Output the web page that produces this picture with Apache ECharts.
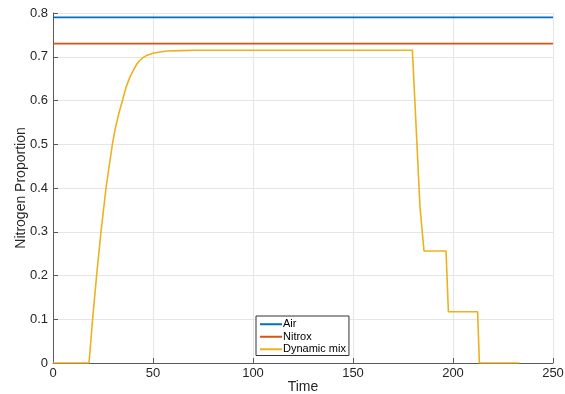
<!DOCTYPE html>
<html>
<head>
<meta charset="utf-8">
<script src="https://cdn.jsdelivr.net/npm/echarts@6/dist/echarts.min.js"></script>
<style>
  html, body { margin: 0; padding: 0; background: #fff; }
  #chart { width: 565px; height: 394px; }
</style>
</head>
<body>
<div id="chart"></div>
<script>
// Nitrogen proportion of the breathing gas over time
const airLevel = 0.79;
const nitroxLevel = 0.73;
const timeSpan = [0, 250];

// Dynamic mix: [time, proportion]
const dynamicTime = [0, 18, 19.8, 21.8, 24, 26.5, 29.7, 31, 33, 34.8, 36.5, 38.5, 40.5, 42, 43.5, 45, 46.8, 50, 53.5, 57, 63.5, 70,
  179.7, 183.5, 184.5, 185.5, 196.5, 197.7, 212.3, 213.2, 233.2];
const dynamicValue = [0, 0, 0.1, 0.2, 0.3, 0.4, 0.5, 0.533, 0.572, 0.601, 0.630, 0.654, 0.672, 0.684, 0.692, 0.698, 0.703, 0.708, 0.711, 0.713, 0.714, 0.715,
  0.715, 0.357, 0.357, 0.256, 0.256, 0.117, 0.117, 0, 0];

const xTicks = [0, 50, 100, 150, 200, 250];
const yTicks = [0, 0.1, 0.2, 0.3, 0.4, 0.5, 0.6, 0.7, 0.8];

const font = 'Liberation Sans, Arial, Helvetica, sans-serif';
const axisColor = '#5a5a5a';
const textColor = '#262626';

const chart = echarts.init(document.getElementById('chart'), null, { renderer: 'canvas' });

chart.setOption({
  animation: false,
  backgroundColor: '#ffffff',
  grid: { left: 53, right: 12, top: 13, bottom: 31, containLabel: false, outerBoundsMode: 'none' },
  xAxis: {
    type: 'value',
    min: xTicks[0],
    max: xTicks[xTicks.length - 1],
    interval: xTicks[1] - xTicks[0],
    name: 'Time',
    nameLocation: 'middle',
    nameGap: 17,
    nameMoveOverlap: false,
    nameTextStyle: { fontFamily: font, fontSize: 14, color: textColor },
    axisLine: { show: true, onZero: false, lineStyle: { color: axisColor, width: 1 } },
    axisTick: { show: true, inside: true, length: 5, lineStyle: { color: axisColor } },
    axisLabel: { fontFamily: font, fontSize: 13, color: textColor, margin: 4 },
    splitLine: { show: true, lineStyle: { color: '#e6e6e6', width: 1 } }
  },
  yAxis: {
    type: 'value',
    min: yTicks[0],
    max: yTicks[yTicks.length - 1],
    interval: 0.1,
    name: 'Nitrogen Proportion',
    nameLocation: 'middle',
    nameGap: 25,
    nameMoveOverlap: false,
    nameTextStyle: { fontFamily: font, fontSize: 14, color: textColor },
    axisLine: { show: true, onZero: false, lineStyle: { color: axisColor, width: 1 } },
    axisTick: { show: true, inside: true, length: 5, lineStyle: { color: axisColor } },
    axisLabel: {
      fontFamily: font, fontSize: 13, color: textColor, margin: 5,
      formatter: v => String(Math.round(v * 10) / 10)
    },
    splitLine: { show: true, lineStyle: { color: '#e6e6e6', width: 1 } }
  },
  legend: {
    orient: 'vertical',
    left: 256,
    top: 316,
    padding: [2, 3, 0, 4],
    itemGap: 0,
    itemWidth: 22,
    itemHeight: 2,
    icon: 'rect',
    borderColor: '#333333',
    borderWidth: 1,
    borderRadius: 0,
    backgroundColor: '#ffffff',
    textStyle: { fontFamily: font, fontSize: 11, color: '#000', lineHeight: 12.5, padding: [0, 0, 0, -4] },
    data: ['Air', 'Nitrox', 'Dynamic mix']
  },
  series: [
    {
      name: 'Air',
      type: 'line',
      showSymbol: false,
      color: '#0072BD',
      lineStyle: { width: 1.6 },
      data: timeSpan.map(t => [t, airLevel])
    },
    {
      name: 'Nitrox',
      type: 'line',
      showSymbol: false,
      color: '#D95319',
      lineStyle: { width: 1.6 },
      data: timeSpan.map(t => [t, nitroxLevel])
    },
    {
      name: 'Dynamic mix',
      type: 'line',
      showSymbol: false,
      color: '#EDB120',
      lineStyle: { width: 1.6 },
      data: dynamicTime.map((t, i) => [t, dynamicValue[i]])
    }
  ]
});
</script>
</body>
</html>
